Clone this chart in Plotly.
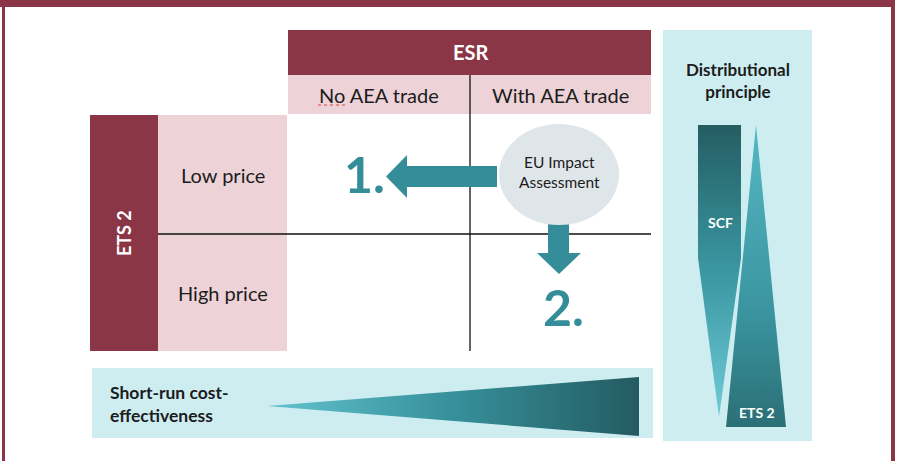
import plotly.graph_objects as go

W, H = 901, 461
FONT = "Lato"

MAROON = "#8b3647"
PINK = "#edd3d8"
LIGHT_BLUE = "#ceedf1"
TEAL = "#348d98"
ELLIPSE = "#dfe6ea"
TEXT = "#1c1c1c"

# labels
header_label = "ESR"
column_labels = ["No AEA trade", "With AEA trade"]
row_header_label = "ETS 2"
row_labels = ["Low price", "High price"]
ellipse_label = "EU Impact<br>Assessment"
step_labels = ["1.", "2."]
side_title = "Distributional<br>principle"
side_labels = ["SCF", "ETS 2"]
bottom_label = "Short-run cost-<br>effectiveness"

# outlines of the gradient shapes (pixel coords, y down)
scf_x = [698, 741, 741, 719, 698, 698]
scf_y = [125, 125, 258, 417, 258, 125]
ets_x = [756, 786, 726, 756]
ets_y = [125, 427, 427, 125]
cost_x = [267, 639, 639, 267]
cost_y = [406, 377, 436, 406]

fig = go.Figure()


def rect(x0, y0, x1, y1, color, layer="above"):
    fig.add_shape(type="rect", x0=x0, y0=y0, x1=x1, y1=y1, fillcolor=color,
                  line=dict(width=0), layer=layer)


def line(x0, y0, x1, y1, color="#111111", width=1.3):
    fig.add_shape(type="line", x0=x0, y0=y0, x1=x1, y1=y1,
                  line=dict(color=color, width=width))


def label(x, y, text, size, color=TEXT, bold=False, angle=0, xanchor="center"):
    fig.add_annotation(x=x, y=y, text=f"<b>{text}</b>" if bold else text,
                       showarrow=False, xanchor=xanchor, yanchor="middle",
                       textangle=angle, align="left" if xanchor == "left" else "center",
                       font=dict(family=FONT, size=size, color=color))


# frame
rect(0, 0, 895, 7, MAROON)
rect(2, 0, 5, H, MAROON)
rect(891, 0, 895, H, MAROON)

# backgrounds of the side / bottom panels
rect(663, 30, 812, 441, LIGHT_BLUE, layer="below")
rect(92, 368, 653, 438, LIGHT_BLUE, layer="below")

# ESR header
rect(288, 30, 651, 75, MAROON)
rect(288, 75, 651, 114, PINK)
# ETS 2 header
rect(90, 115, 158, 351, MAROON)
rect(158, 115, 287, 351, PINK)

# grid lines
line(470, 75, 470, 351)
line(158, 234, 651, 234)

# arrows
fig.add_shape(type="path", fillcolor=TEAL, line=dict(width=0),
              path="M 497 166 L 407 166 L 407 155 L 386 176.5 L 407 198 L 407 187 L 497 187 Z")
fig.add_shape(type="path", fillcolor=TEAL, line=dict(width=0),
              path="M 548 224 L 548 253 L 537 253 L 559 274 L 581 253 L 569 253 L 569 224 Z")
fig.add_shape(type="circle", x0=499, y0=124, x1=619, y1=225, fillcolor=ELLIPSE,
              line=dict(width=0))

# spell-check squiggle under "No"
fig.add_shape(type="line", x0=318, y0=105, x1=345, y1=105,
              line=dict(color="#e0403a", width=1, dash="dot"))

# gradient shapes
fig.add_trace(go.Scatter(
    x=scf_x, y=scf_y, mode="lines", fill="toself", line=dict(width=0, color="rgba(0,0,0,0)"),
    fillgradient=dict(type="vertical", start=125, stop=417,
                      colorscale=[[0, "#245d62"], [0.5, "#3a97a2"], [1, "#6fcbd7"]]),
    hoverinfo="skip", showlegend=False))
fig.add_trace(go.Scatter(
    x=ets_x, y=ets_y, mode="lines", fill="toself", line=dict(width=0, color="rgba(0,0,0,0)"),
    fillgradient=dict(type="vertical", start=125, stop=427,
                      colorscale=[[0, "#55b7c3"], [0.6, "#3b96a1"], [1, "#2b6f76"]]),
    hoverinfo="skip", showlegend=False))
fig.add_trace(go.Scatter(
    x=cost_x, y=cost_y, mode="lines", fill="toself", line=dict(width=0, color="rgba(0,0,0,0)"),
    fillgradient=dict(type="horizontal", start=267, stop=639,
                      colorscale=[[0, "#62c3cf"], [0.5, "#36909b"], [1, "#245b61"]]),
    hoverinfo="skip", showlegend=False))

# texts
label(470, 52, header_label, 20, color="white", bold=True)
label(379, 95, column_labels[0], 20)
label(560, 95, column_labels[1], 20)
label(124, 233, row_header_label, 18, color="white", bold=True, angle=-90)
label(223, 175, row_labels[0], 20)
label(223, 293, row_labels[1], 20)
label(559, 172, ellipse_label, 15.5)
label(364, 174, step_labels[0], 50, color=TEAL, bold=True)
label(563, 307, step_labels[1], 50, color=TEAL, bold=True)
label(738, 80, side_title, 17, bold=True)
label(720, 222, side_labels[0], 14, color="white", bold=True)
label(757, 412, side_labels[1], 14, color="white", bold=True)
label(108, 404, bottom_label, 17.5, bold=True, xanchor="left")

fig.update_xaxes(range=[0, W], visible=False, fixedrange=True)
fig.update_yaxes(range=[H, 0], visible=False, fixedrange=True)
fig.update_layout(width=W, height=H, margin=dict(l=0, r=0, t=0, b=0),
                  plot_bgcolor="white", paper_bgcolor="white", showlegend=False)

# the page body has a default 8px margin; drop it so the figure fills the window
fig.write_html("out.html", config={"displayModeBar": False},
               post_script="document.body.style.margin='0';document.body.style.overflow='hidden';")
